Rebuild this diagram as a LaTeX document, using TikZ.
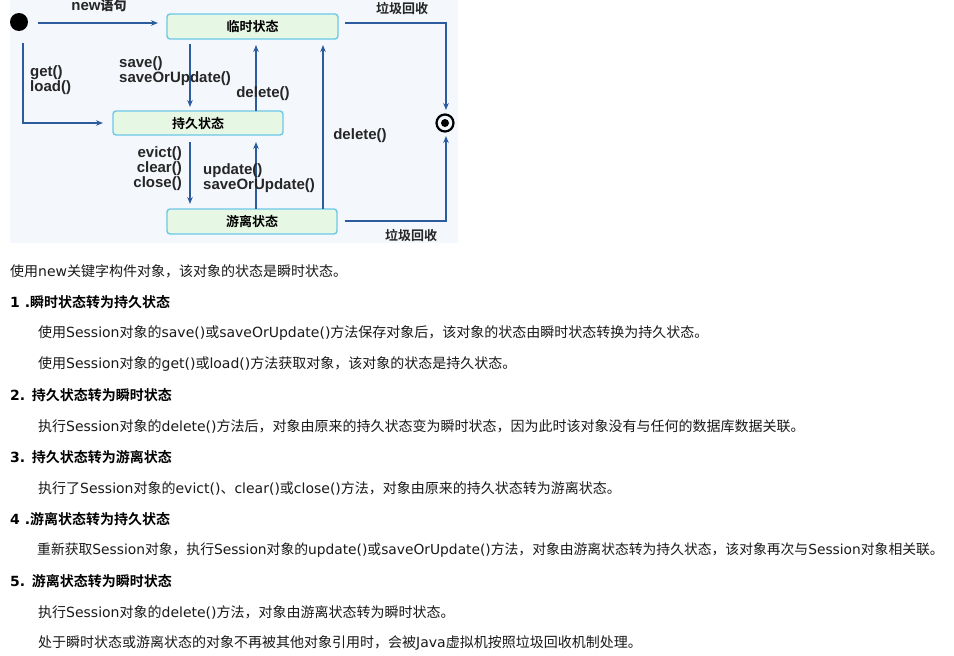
\documentclass[tikz,border=0pt]{standalone}
\usepackage{fontspec}
\setmainfont{DejaVu Sans}
\newfontfamily\cjk{Noto Sans CJK SC}
\newfontfamily\cjkb{Noto Sans CJK SC Bold}
\newfontfamily\lat{DejaVu Sans}
\newfontfamily\lab{Liberation Sans}
\usetikzlibrary{arrows.meta}
\newcommand\la[1]{{\lat #1}}
\definecolor{arr}{HTML}{2D5C9E}
\definecolor{boxfill}{HTML}{E6F8E4}
\definecolor{boxline}{HTML}{6CC8E8}
\definecolor{diagbg}{HTML}{F4F7FC}
\begin{document}
\begin{tikzpicture}[x=1pt,y=-1pt,
  statebox/.style={draw=boxline,line width=1.4pt,fill=boxfill,rounded corners=3pt,inner sep=0pt,font=\fontsize{13}{15}\cjkb\selectfont},
  conn/.style={draw=arr,line width=2.4pt,-{Stealth[length=7pt,width=5.5pt]}},
  lbl/.style={font=\fontsize{15}{16}\lab\bfseries\selectfont,inner sep=0pt,text=black!85},
  clbl/.style={font=\fontsize{13}{15}\cjkb\selectfont,inner sep=0pt,text=black!85},
  para/.style={anchor=west,inner sep=0pt,font=\fontsize{14}{16}\cjk\selectfont,text=black!90},
  head/.style={anchor=west,inner sep=0pt,font=\fontsize{14}{16}\cjkb\selectfont,text=black}]
\useasboundingbox (0,0) rectangle (954,656);
\fill[white] (0,0) rectangle (954,656);
\fill[diagbg] (10,0) rectangle (458,243);

% states
\node[statebox,minimum width=171pt,minimum height=25pt] (tr) at (252.5,26.5) {临时状态};
\node[statebox,minimum width=170pt,minimum height=24pt] (pe) at (198,123) {持久状态};
\node[statebox,minimum width=170pt,minimum height=25pt] (de) at (252,221.5) {游离状态};
\node[circle,fill=black,minimum size=18pt,inner sep=0pt] (init) at (19,22) {};
\node[circle,draw=black,line width=2.2pt,minimum size=17pt,inner sep=0pt] (fin) at (445,123) {};
\node[circle,fill=black,minimum size=8pt,inner sep=0pt] at (fin) {};

% coordinates
\coordinate (newS) at (38,23);
\coordinate (newE) at (158,23);
\coordinate (glS) at (23,43);
\coordinate (glC) at (23,123);
\coordinate (glE) at (103,123);
\coordinate (gcTS) at (345,23);
\coordinate (gcTC) at (446,23);
\coordinate (gcBS) at (345,221);
\coordinate (gcBC) at (446,221);

% connectors
\draw[conn] (newS) -- (newE);
\draw[conn] (glS) -- (glC) -- (glE);
\draw[conn] (190,44) -- (190,107);
\draw[conn] (256,111) -- (256,45);
\draw[conn] (323,209) -- (323,45);
\draw[conn] (190,142) -- (190,204);
\draw[conn] (256,209) -- (256,142);
\draw[conn] (gcTS) -- (gcTC) -- (446,110);
\draw[conn] (gcBS) -- (gcBC) -- (446,136);

% labels
\node[lbl] (lnew) at (99,6) {new{\cjkb\fontsize{13}{15}\selectfont 语句}};
\node[lbl,anchor=west,align=left] (lgl) at (30,80) {get()\\[-1pt]load()};
\node[lbl,anchor=west,align=left] (lsave) at (119,71.5) {save()\\[-1pt]saveOrUpdate()};
\node[lbl] (ldel1) at (263,93.5) {delete()};
\node[lbl] (ldel2) at (360,135.5) {delete()};
\node[lbl,anchor=east,align=right] (lev) at (182,169) {evict()\\[-1pt]clear()\\[-1pt]close()};
\node[lbl,anchor=west,align=left] (lup) at (203,178) {update()\\[-1pt]saveOrUpdate()};
\node[clbl] (gc1) at (402,9) {垃圾回收};
\node[clbl] (gc2) at (411,236) {垃圾回收};

% text
\node[para] (t0) at (10,271) {使用\la{new}关键字构件对象，该对象的状态是瞬时状态。};
\node[head] (h1) at (10,302) {\la{\bfseries 1 .}瞬时状态转为持久状态};
\node[para] (t1) at (38,333) {使用\la{Session}对象的\la{save()}或\la{saveOrUpdate()}方法保存对象后，该对象的状态由瞬时状态转换为持久状态。};
\node[para] (t2) at (38,364) {使用\la{Session}对象的\la{get()}或\la{load()}方法获取对象，该对象的状态是持久状态。};
\node[head] (h2) at (10,395) {\la{\bfseries 2. }持久状态转为瞬时状态};
\node[para] (t3) at (38,426) {执行\la{Session}对象的\la{delete()}方法后，对象由原来的持久状态变为瞬时状态，因为此时该对象没有与任何的数据库数据关联。};
\node[head] (h3) at (10,457) {\la{\bfseries 3. }持久状态转为游离状态};
\node[para] (t4) at (38,488) {执行了\la{Session}对象的\la{evict()}、\la{clear()}或\la{close()}方法，对象由原来的持久状态转为游离状态。};
\node[head] (h4) at (10,519) {\la{\bfseries 4 .}游离状态转为持久状态};
\node[para,font=\fontsize{13.8}{16}\cjk\selectfont] (t5) at (37,550) {重新获取\la{Session}对象，执行\la{Session}对象的\la{update()}或\la{saveOrUpdate()}方法，对象由游离状态转为持久状态，该对象再次与\la{Session}对象相关联。};
\node[head] (h5) at (10,581) {\la{\bfseries 5. }游离状态转为瞬时状态};
\node[para] (t6) at (38,612) {执行\la{Session}对象的\la{delete()}方法，对象由游离状态转为瞬时状态。};
\node[para] (t7) at (38,643) {处于瞬时状态或游离状态的对象不再被其他对象引用时，会被\la{Java}虚拟机按照垃圾回收机制处理。};
\end{tikzpicture}
\end{document}
